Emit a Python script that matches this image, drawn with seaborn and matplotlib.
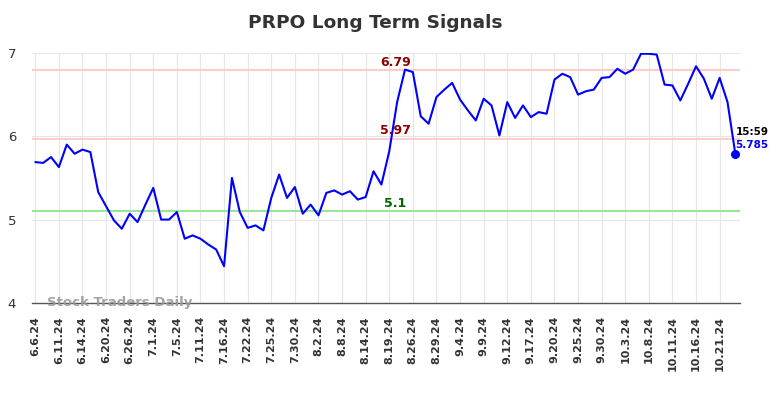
import matplotlib
matplotlib.use("Agg")
import matplotlib.pyplot as plt
import numpy as np
import pandas as pd
import seaborn as sns

# closing prices, one per trading day
prices = [
    5.69, 5.68, 5.75, 5.63, 5.90, 5.79, 5.84, 5.81, 5.33, 5.16,
    4.99, 4.89, 5.07, 4.97, 5.18, 5.38, 5.00, 5.00, 5.09, 4.77,
    4.81, 4.77, 4.70, 4.64, 4.44, 5.50, 5.09, 4.90, 4.93, 4.87,
    5.26, 5.54, 5.26, 5.39, 5.07, 5.18, 5.05, 5.32, 5.35, 5.30,
    5.34, 5.24, 5.27, 5.58, 5.42, 5.82, 6.41, 6.80, 6.77, 6.24,
    6.15, 6.47, 6.56, 6.64, 6.44, 6.31, 6.19, 6.45, 6.37, 6.01,
    6.41, 6.22, 6.37, 6.23, 6.29, 6.27, 6.68, 6.75, 6.71, 6.50,
    6.54, 6.56, 6.70, 6.71, 6.81, 6.75, 6.80, 6.99, 6.99, 6.98,
    6.62, 6.61, 6.43, 6.63, 6.84, 6.69, 6.45, 6.70, 6.41, 5.785,
]

tick_labels = [
    "6.6.24", "6.11.24", "6.14.24", "6.20.24", "6.26.24", "7.1.24",
    "7.5.24", "7.11.24", "7.16.24", "7.22.24", "7.25.24", "7.30.24",
    "8.2.24", "8.8.24", "8.14.24", "8.19.24", "8.26.24", "8.29.24",
    "9.4.24", "9.9.24", "9.12.24", "9.17.24", "9.20.24", "9.25.24",
    "9.30.24", "10.3.24", "10.8.24", "10.11.24", "10.16.24", "10.21.24",
]

resistance_levels = [6.79, 5.97]
support_levels = [5.1]
last_time = "15:59"

df = pd.DataFrame({"day": np.arange(len(prices)), "price": prices})

sns.set_style("whitegrid", {"grid.color": "#e6e6e6"})
plt.rcParams['font.family'] = ['DejaVu Sans']

fig = plt.figure(figsize=(7.84, 3.98), dpi=100)
ax = fig.add_axes([0.041, 0.239, 0.903, 0.628])

for lvl in resistance_levels:
    ax.axhline(lvl, color="#ffcccc", lw=1.5, zorder=1)
for lvl in support_levels:
    ax.axhline(lvl, color="#99e699", lw=1.5, zorder=1)

sns.lineplot(data=df, x="day", y="price", color="blue", lw=1.5, ax=ax, zorder=3)

last = df.iloc[-1]
ax.scatter([last["day"]], [last["price"]], color="blue", s=30, zorder=4)
ax.text(last["day"], last["price"] + 0.27, last_time, fontsize=7.5,
        fontweight="bold", color="black", ha="left", va="center")
ax.text(last["day"], last["price"] + 0.11, f"{last['price']:.3f}", fontsize=7.5,
        fontweight="bold", color="blue", ha="left", va="center")

mid = 45.8
for lvl in resistance_levels:
    ax.text(mid, lvl + 0.02, f"{lvl:g}", color="#8b0000", fontsize=9,
            fontweight="bold", ha="center", va="bottom")
for lvl in support_levels:
    ax.text(mid, lvl + 0.02, f"{lvl:g}", color="#006400", fontsize=9,
            fontweight="bold", ha="center", va="bottom")

ax.text(1.5, 4.0, "Stock Traders Daily", color="#999999", fontsize=9.5,
        fontweight="bold", alpha=0.9, ha="left", va="center", zorder=5)

ax.set_xlim(-0.4, 89.6)
ax.set_ylim(4, 7)
ax.set_yticks([4, 5, 6, 7])
ax.set_xticks(np.arange(0, len(prices), 3)[:len(tick_labels)])
ax.set_xticklabels(tick_labels, rotation=90, fontsize=8, fontweight="bold",
                   color="#333333")
ax.tick_params(axis="y", labelsize=9.5, colors="#333333", pad=8)
ax.tick_params(axis="x", pad=6)
ax.set_xlabel("")
ax.set_ylabel("")
for side in ["top", "right", "left"]:
    ax.spines[side].set_visible(False)
ax.spines["bottom"].set_color("#555555")
ax.spines["bottom"].set_linewidth(1)

fig.suptitle("PRPO Long Term Signals", x=0.478, y=0.965, fontsize=13.3,
             fontweight="bold", color="#333333")

fig.savefig("out.png", dpi=100)
